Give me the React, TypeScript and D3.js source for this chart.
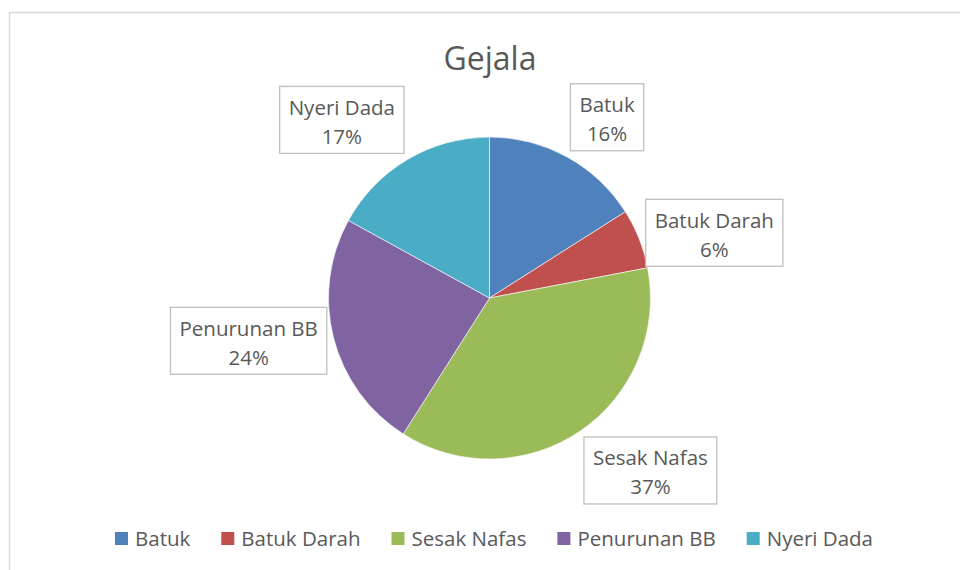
import React, { useEffect, useRef } from "react";
import * as d3 from "d3";

const title = "Gejala";
const categories = ["Batuk", "Batuk Darah", "Sesak Nafas", "Penurunan BB", "Nyeri Dada"];
const values = [16, 6, 37, 24, 17];
const colors = ["#4F81BD", "#C0504D", "#9BBB59", "#8064A2", "#4BACC6"];

const W = 960;
const H = 570;
const FONT = "'Open Sans', 'Noto Sans', sans-serif";
const TEXT = "#595959";
const FS = 20.5;

export default function App() {
  const ref = useRef<SVGSVGElement>(null);

  useEffect(() => {
    const svg = d3.select(ref.current);
    svg.selectAll("*").remove();

    svg.append("rect").attr("width", W).attr("height", H).attr("fill", "#fff");
    svg
      .append("rect")
      .attr("x", 9.5)
      .attr("y", 12.5)
      .attr("width", W + 50)
      .attr("height", H + 50)
      .attr("fill", "none")
      .attr("stroke", "#d9d9d9")
      .attr("stroke-width", 1.5);

    svg
      .append("text")
      .attr("x", 490)
      .attr("y", 70)
      .attr("text-anchor", "middle")
      .attr("font-family", FONT)
      .attr("font-size", 32)
      .attr("fill", TEXT)
      .text(title);

    const cx = 489.5;
    const cy = 298;
    const R = 161;
    const total = d3.sum(values);
    const arcs = d3.pie<number>().value((d) => d).sort(null)(values);
    const arc = d3.arc<d3.PieArcDatum<number>>().innerRadius(0).outerRadius(R);

    const g = svg.append("g").attr("transform", `translate(${cx},${cy})`);
    g.selectAll("path.slice")
      .data(arcs)
      .join("path")
      .attr("class", "slice")
      .attr("d", arc)
      .attr("fill", (_d, i) => colors[i])
      .attr("stroke", "#ffffff")
      .attr("stroke-width", 0.6);

    const clamp = (v: number) => Math.max(-1, Math.min(1, v));
    const labelR = 168;
    const boxH = 67;
    const padX = 9;

    arcs.forEach((a, i) => {
      const mid = (a.startAngle + a.endAngle) / 2;
      const s = Math.sin(mid);
      const c = -Math.cos(mid);
      const px = s * labelR;
      const py = c * labelR;
      const lg = g.append("g");
      const rect = lg.append("rect").attr("fill", "#fff").attr("stroke", "#bfbfbf").attr("stroke-width", 1.3);
      const pct = Math.round((values[i] / total) * 100) + "%";
      const t1 = lg
        .append("text")
        .attr("text-anchor", "middle")
        .attr("font-family", FONT)
        .attr("font-size", FS)
        .attr("fill", TEXT)
        .text(categories[i]);
      const t2 = lg
        .append("text")
        .attr("text-anchor", "middle")
        .attr("font-family", FONT)
        .attr("font-size", FS)
        .attr("fill", TEXT)
        .text(pct);
      const tw = Math.max(
        (t1.node() as SVGTextElement).getComputedTextLength(),
        (t2.node() as SVGTextElement).getComputedTextLength()
      );
      const bw = tw + padX * 2;
      const sx = clamp(s * 3);
      const sy = clamp(2 * c * c * c);
      const bx = px + (sx * bw) / 2;
      const by = py + (sy * boxH) / 2;
      rect
        .attr("x", bx - bw / 2)
        .attr("y", by - boxH / 2)
        .attr("width", bw)
        .attr("height", boxH);
      t1.attr("x", bx).attr("y", by - 5);
      t2.attr("x", bx).attr("y", by + 24);
    });

    // Legend
    const lgG = svg.append("g");
    const sq = 13;
    const gap = 7;
    const spacing = 31;
    const items: { g: any; w: number }[] = [];
    categories.forEach((cat, i) => {
      const ig = lgG.append("g");
      ig.append("rect").attr("x", 0).attr("y", -14).attr("width", sq).attr("height", sq).attr("fill", colors[i]);
      const t = ig
        .append("text")
        .attr("x", sq + gap)
        .attr("y", 0)
        .attr("font-family", FONT)
        .attr("font-size", FS)
        .attr("fill", TEXT)
        .text(cat);
      const w = sq + gap + (t.node() as SVGTextElement).getComputedTextLength();
      items.push({ g: ig, w });
    });
    const totalW = d3.sum(items, (d) => d.w) + spacing * (items.length - 1);
    let x = 494 - totalW / 2;
    items.forEach((it) => {
      it.g.attr("transform", `translate(${x},546)`);
      x += it.w + spacing;
    });
  }, []);

  return (
    <svg
      ref={ref}
      width={W}
      height={H}
      style={{ position: "absolute", left: 0, top: 0, display: "block" }}
    />
  );
}
